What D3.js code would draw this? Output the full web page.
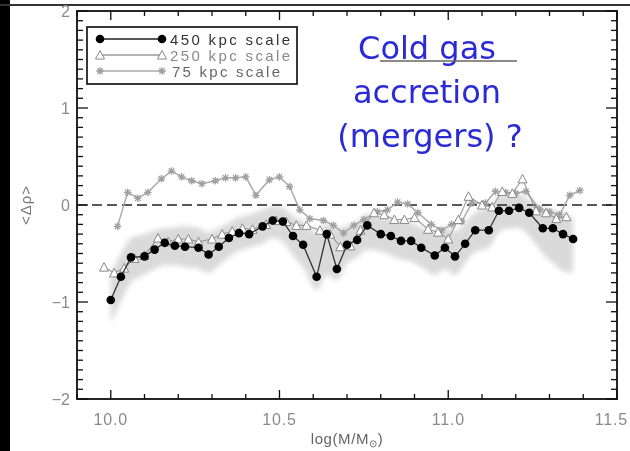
<!DOCTYPE html>
<html>
<head>
<meta charset="utf-8">
<script src="https://cdn.jsdelivr.net/npm/d3@7"></script>
<style>
  body { margin: 0; background: #fff; }
  svg { display: block; }
</style>
</head>
<body>
<div id="chart-area"></div>
<script>
const WIDTH = 630;
const HEIGHT = 451;

// 450 kpc scale (black dots) and the shaded band around it
const xs450 = [10.00, 10.03, 10.06, 10.10, 10.13, 10.16, 10.19, 10.22, 10.26, 10.29, 10.32, 10.35, 10.38, 10.41, 10.45,
  10.48, 10.51, 10.54, 10.57, 10.61, 10.64, 10.67, 10.70, 10.73, 10.76, 10.80, 10.83, 10.86, 10.89, 10.92, 10.96,
  10.99, 11.02, 11.05, 11.08, 11.12, 11.15, 11.18, 11.21, 11.24, 11.28, 11.31, 11.34, 11.37];
const vals450 = [-0.98, -0.74, -0.54, -0.53, -0.46, -0.39, -0.42, -0.43, -0.44, -0.51, -0.43, -0.34, -0.29, -0.30, -0.22,
  -0.16, -0.17, -0.32, -0.41, -0.74, -0.30, -0.66, -0.41, -0.36, -0.21, -0.30, -0.32, -0.37, -0.37, -0.44, -0.52,
  -0.44, -0.53, -0.40, -0.26, -0.26, -0.06, -0.06, -0.03, -0.08, -0.24, -0.24, -0.30, -0.35];
const bandHigh = [-0.70, -0.50, -0.34, -0.30, -0.26, -0.24, -0.23, -0.22, -0.24, -0.28, -0.24, -0.18, -0.13, -0.10, -0.05,
  -0.01, -0.03, -0.11, -0.17, -0.28, -0.19, -0.24, -0.21, -0.17, -0.09, -0.13, -0.15, -0.17, -0.19, -0.23, -0.27,
  -0.23, -0.27, -0.19, -0.07, -0.03, 0.09, 0.11, 0.11, 0.05, -0.03, -0.05, -0.09, -0.13];
const bandLow = [-1.22, -1.00, -0.80, -0.72, -0.66, -0.62, -0.62, -0.64, -0.66, -0.70, -0.62, -0.54, -0.47, -0.44, -0.40,
  -0.34, -0.38, -0.52, -0.64, -0.88, -0.72, -0.78, -0.60, -0.54, -0.46, -0.48, -0.52, -0.56, -0.58, -0.64, -0.72,
  -0.66, -0.72, -0.60, -0.48, -0.44, -0.28, -0.24, -0.24, -0.32, -0.50, -0.60, -0.68, -0.70];

// 250 kpc scale (open triangles)
const xs250 = [9.98, 10.01, 10.04, 10.07, 10.10, 10.14, 10.17, 10.20, 10.23, 10.26, 10.30, 10.33, 10.36, 10.39, 10.42,
  10.46, 10.49, 10.52, 10.55, 10.58, 10.62, 10.65, 10.68, 10.71, 10.74, 10.78, 10.81, 10.84, 10.87, 10.90, 10.94,
  10.97, 11.00, 11.03, 11.06, 11.10, 11.13, 11.16, 11.19, 11.22, 11.26, 11.29, 11.32, 11.35];
const vals250 = [-0.64, -0.70, -0.65, -0.55, -0.52, -0.34, -0.38, -0.35, -0.35, -0.38, -0.35, -0.30, -0.27, -0.24, -0.25,
  -0.20, -0.16, -0.17, -0.21, -0.21, -0.26, -0.30, -0.43, -0.42, -0.26, -0.08, -0.10, -0.15, -0.15, -0.13, -0.25,
  -0.28, -0.35, -0.15, 0.09, 0.00, -0.02, 0.14, 0.12, 0.27, -0.06, -0.08, -0.14, -0.12];

// 75 kpc scale (asterisks)
const xs75 = [10.02, 10.05, 10.08, 10.11, 10.15, 10.18, 10.21, 10.24, 10.27, 10.31, 10.34, 10.37, 10.40, 10.43, 10.47,
  10.50, 10.53, 10.56, 10.59, 10.63, 10.66, 10.69, 10.72, 10.75, 10.79, 10.82, 10.85, 10.88, 10.91, 10.95, 10.98,
  11.01, 11.04, 11.07, 11.11, 11.14, 11.17, 11.20, 11.23, 11.27, 11.30, 11.33, 11.36, 11.39];
const vals75 = [-0.22, 0.13, 0.07, 0.13, 0.27, 0.35, 0.29, 0.25, 0.22, 0.25, 0.28, 0.28, 0.29, 0.10, 0.26,
  0.29, 0.19, -0.05, -0.14, -0.16, -0.21, -0.29, -0.21, -0.15, -0.07, -0.05, 0.03, 0.01, -0.08, -0.20, -0.26,
  -0.20, -0.17, 0.02, 0.02, 0.14, 0.13, 0.12, 0.14, -0.04, -0.07, -0.10, 0.10, 0.15];

const xTickLabels = ['10.0', '10.5', '11.0', '11.5'];
const yTickLabels = ['2', '1', '0', '\u22121', '\u22122'];
const legendLabels = ['450 kpc scale', '250 kpc scale', '75 kpc scale'];
const noteLines = ['Cold gas', 'accretion', '(mergers) ?'];

main();

function main() {
  const svg = d3.select('#chart-area').append('svg')
    .attr('width', WIDTH)
    .attr('height', HEIGHT);
  const defs = svg.append('defs');
  defs.append('filter').attr('id', 'soft')
    .attr('x', '-10%').attr('y', '-10%').attr('width', '120%').attr('height', '120%')
    .append('feGaussianBlur').attr('stdDeviation', 0.45);
  defs.append('filter').attr('id', 'bandblur')
    .attr('x', '-10%').attr('y', '-30%').attr('width', '120%').attr('height', '160%')
    .append('feGaussianBlur').attr('stdDeviation', 2.5);

  // slide border
  svg.append('rect').attr('x', 0).attr('y', 0).attr('width', 10).attr('height', HEIGHT).attr('fill', '#000');
  svg.append('rect').attr('x', 0).attr('y', 4).attr('width', WIDTH).attr('height', 2).attr('fill', '#333');

  const root = svg.append('g').attr('filter', 'url(#soft)');
  showGraph(root);
}

function showGraph(g) {
  const x = d3.scaleLinear().domain([9.9, 11.5]).range([77, 617]);
  const y = d3.scaleLinear().domain([-2, 2]).range([399, 11]);
  const [x0, x1] = x.range();
  const [y0, y1] = y.range();

  // shaded band
  const bandData = xs450.map((d, i) => ({x: d, hi: bandHigh[i], lo: bandLow[i]}));
  g.append('path')
    .datum(bandData)
    .attr('fill', '#dadada')
    .attr('filter', 'url(#bandblur)')
    .attr('d', d3.area().x(d => x(d.x)).y0(d => y(d.lo)).y1(d => y(d.hi)).curve(d3.curveMonotoneX));

  // zero line
  g.append('line')
    .attr('x1', x0).attr('x2', x1)
    .attr('y1', y(0)).attr('y2', y(0))
    .attr('stroke', '#222').attr('stroke-width', 1.7)
    .attr('stroke-dasharray', '10,5');

  const line = d3.line().x(d => x(d.x)).y(d => y(d.v));

  // 75 kpc
  const d75 = xs75.map((d, i) => ({x: d, v: vals75[i]}));
  g.append('path').datum(d75)
    .attr('fill', 'none').attr('stroke', '#aaa').attr('stroke-width', 1.5)
    .attr('d', line);
  g.append('g').selectAll('path').data(d75).enter().append('path')
    .attr('transform', d => `translate(${ x(d.x) },${ y(d.v) })`)
    .attr('d', asterisk(3.8))
    .attr('stroke', '#a0a0a0').attr('stroke-width', 1.3).attr('fill', 'none');

  // 250 kpc
  const d250 = xs250.map((d, i) => ({x: d, v: vals250[i]}));
  g.append('path').datum(d250)
    .attr('fill', 'none').attr('stroke', '#999').attr('stroke-width', 1.1)
    .attr('d', line);
  g.append('g').selectAll('path').data(d250).enter().append('path')
    .attr('transform', d => `translate(${ x(d.x) },${ y(d.v) })`)
    .attr('d', triangle(4.5))
    .attr('stroke', '#888').attr('stroke-width', 1).attr('fill', '#fff');

  // 450 kpc
  const d450 = xs450.map((d, i) => ({x: d, v: vals450[i]}));
  g.append('path').datum(d450)
    .attr('fill', 'none').attr('stroke', '#333').attr('stroke-width', 1.3)
    .attr('d', line);
  g.append('g').selectAll('circle').data(d450).enter().append('circle')
    .attr('cx', d => x(d.x)).attr('cy', d => y(d.v)).attr('r', 4.3)
    .attr('fill', '#000');

  // axes (IDL style box with ticks on all four sides)
  const axes = g.append('g').attr('stroke', '#111');
  const xMinor = d3.range(9.9, 11.501, 0.1);
  xMinor.forEach(v => {
    const major = Math.abs(v * 2 - Math.round(v * 2)) < 1e-6;
    const len = major ? 9 : 5;
    axes.append('line').attr('x1', x(v)).attr('x2', x(v)).attr('y1', y0).attr('y2', y0 - len).attr('stroke-width', 1.3);
    axes.append('line').attr('x1', x(v)).attr('x2', x(v)).attr('y1', y1).attr('y2', y1 + len).attr('stroke-width', 1.3);
  });
  const yMinor = d3.range(-2, 2.001, 0.1);
  yMinor.forEach(v => {
    const major = Math.abs(v - Math.round(v)) < 1e-6;
    const len = major ? 11 : 6;
    axes.append('line').attr('x1', x0).attr('x2', x0 + len).attr('y1', y(v)).attr('y2', y(v)).attr('stroke-width', 1.3);
    axes.append('line').attr('x1', x1).attr('x2', x1 - len).attr('y1', y(v)).attr('y2', y(v)).attr('stroke-width', 1.3);
  });
  g.append('rect')
    .attr('x', x0).attr('y', y1).attr('width', x1 - x0).attr('height', y0 - y1)
    .attr('fill', 'none').attr('stroke', '#111').attr('stroke-width', 1.8);

  // tick labels (the last one is pulled in so that it stays inside the window)
  g.append('g').selectAll('text').data(xTickLabels).enter().append('text')
    .attr('x', (d, i) => i === xTickLabels.length - 1 ? WIDTH - 2 : x(+d))
    .attr('y', 425)
    .attr('text-anchor', (d, i) => i === xTickLabels.length - 1 ? 'end' : 'middle')
    .attr('font-family', 'Liberation Sans, Arial, sans-serif').attr('font-size', 16)
    .attr('letter-spacing', 0.8)
    .attr('fill', '#8a8a8a')
    .text(d => d);
  g.append('g').selectAll('text').data(yTickLabels).enter().append('text')
    .attr('x', 70).attr('y', d => y(+d.replace('\u2212', '-')) + 6)
    .attr('text-anchor', 'end')
    .attr('font-family', 'Liberation Sans, Arial, sans-serif').attr('font-size', 16)
    .attr('fill', '#8a8a8a')
    .text(d => d);

  // axis titles
  const xt = g.append('text')
    .attr('x', 347).attr('y', 444)
    .attr('text-anchor', 'middle')
    .attr('font-family', 'Liberation Sans, Arial, sans-serif').attr('font-size', 15)
    .attr('letter-spacing', 0.6)
    .attr('fill', '#666');
  xt.append('tspan').text('log(M/M');
  xt.append('tspan').attr('font-size', 10).attr('dy', 3).text('\u2299');
  xt.append('tspan').attr('dy', -3).text(')');

  g.append('text')
    .attr('transform', `translate(31, 205) rotate(-90)`)
    .attr('text-anchor', 'middle')
    .attr('font-family', 'Liberation Sans, Arial, sans-serif').attr('font-size', 15)
    .attr('letter-spacing', 1)
    .attr('fill', '#777')
    .text('<\u0394\u03c1>');

  // legend
  const leg = g.append('g');
  leg.append('rect')
    .attr('x', 87).attr('y', 27).attr('width', 210).attr('height', 57)
    .attr('fill', '#fff').attr('stroke', '#222').attr('stroke-width', 1.8);
  const legendY = [39, 55, 71];
  const legendStroke = ['#222', '#999', '#aaa'];
  const legendText = ['#333', '#888', '#666'];
  legendLabels.forEach((label, i) => {
    const ly = legendY[i];
    leg.append('line').attr('x1', 100).attr('x2', 162).attr('y1', ly).attr('y2', ly)
      .attr('stroke', legendStroke[i]).attr('stroke-width', i === 0 ? 1.6 : 1.4);
    [100, 162].forEach(px => {
      if (i === 0) {
        leg.append('circle').attr('cx', px).attr('cy', ly).attr('r', 4.3).attr('fill', '#000');
      } else if (i === 1) {
        leg.append('path').attr('transform', `translate(${ px },${ ly })`).attr('d', triangle(4.5))
          .attr('stroke', '#888').attr('fill', '#fff');
      } else {
        leg.append('path').attr('transform', `translate(${ px },${ ly })`).attr('d', asterisk(3.8))
          .attr('stroke', '#a0a0a0').attr('stroke-width', 1.3);
      }
    });
    leg.append('text')
      .attr('x', i === 2 ? 172 : 170).attr('y', ly + 6)
      .attr('font-family', 'Liberation Sans, Arial, sans-serif').attr('font-size', 15)
      .attr('textLength', i === 2 ? 108 : 120).attr('lengthAdjust', 'spacing')
      .attr('fill', legendText[i])
      .text(label);
  });

  // annotation
  const note = g.append('g');
  const noteY = [59, 103, 147];
  noteLines.forEach((t, i) => {
    note.append('text')
      .attr('x', i === 2 ? 430 : 427).attr('y', noteY[i])
      .attr('text-anchor', 'middle')
      .attr('font-family', 'DejaVu Sans, sans-serif').attr('font-size', 32)
      .attr('fill', '#2b2bd6')
      .text(t);
  });
  note.append('line')
    .attr('x1', 380).attr('x2', 517).attr('y1', 61).attr('y2', 61)
    .attr('stroke', '#666').attr('stroke-width', 1.5);
}

function triangle(r) {
  const h = r * 0.9;
  return `M0,${ -r }L${ r },${ h }L${ -r },${ h }Z`;
}

function asterisk(r) {
  const d = r * 0.72;
  return `M${ -r },0L${ r },0M0,${ -r }L0,${ r }M${ -d },${ -d }L${ d },${ d }M${ -d },${ d }L${ d },${ -d }`;
}
</script>
</body>
</html>
